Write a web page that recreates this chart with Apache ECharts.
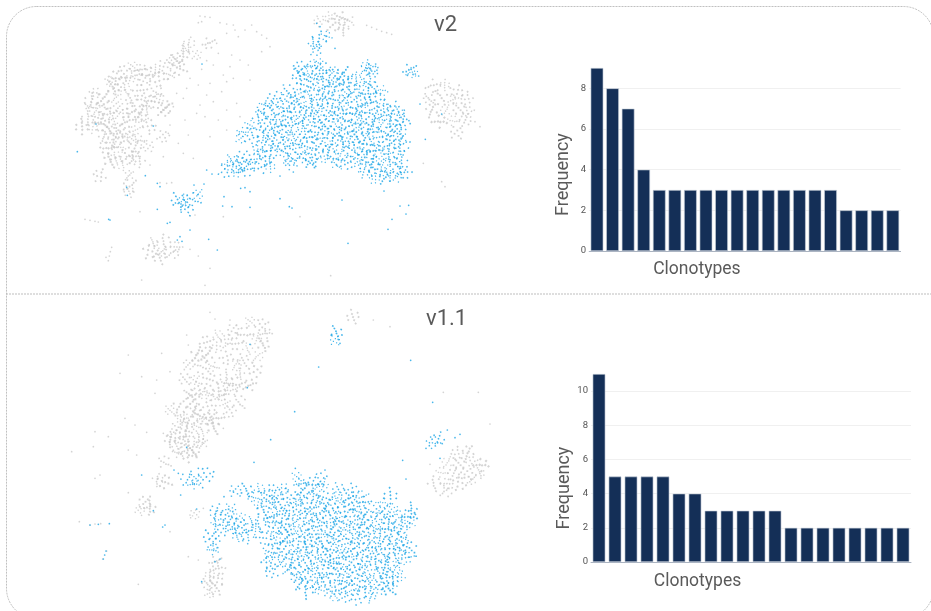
<!DOCTYPE html>
<html><head><meta charset="utf-8">
<style>html,body{margin:0;padding:0;background:#fff}#c{width:931px;height:611px}</style>
<script src="https://cdn.jsdelivr.net/npm/echarts@6/dist/echarts.min.js"></script>
</head><body><div id="c"></div>
<script>
const clonotypes = Array.from({length:20},(_,i)=>'C'+(i+1));
const freqV2 = [9,8,7,4,3,3,3,3,3,3,3,3,3,3,3,3,2,2,2,2];
const freqV11 = [11,5,5,5,5,4,4,3,3,3,3,3,2,2,2,2,2,2,2,2];

const blueClumpsV2 = [[745,160],[692,172],[726,168],[762,176],[888,166],[908,176],[684,188],[716,184],[748,190],[786,186],[818,192],[884,184],[906,182],
[690,206],[722,202],[756,208],[792,204],[826,210],[858,202],[896,212],[702,226],[734,222],[770,228],[802,224],[836,230],[872,222],[906,230],
[655,242],[692,248],[726,244],[760,250],[796,244],[830,250],[862,244],[896,252],[936,244],[612,266],[646,262],[680,268],[716,264],[750,270],[784,264],[820,270],[852,264],[886,270],[920,266],
[586,286],[622,282],[656,288],[690,284],[726,290],[760,284],[796,290],[830,284],[866,290],[900,284],[942,288],[970,294],[572,306],[600,302],[636,308],[670,304],[706,310],[740,304],[776,310],[810,304],[846,310],[880,304],[916,310],[950,304],[986,308],
[570,324],[610,328],[646,322],[680,328],[716,322],[750,328],[786,322],[820,328],[856,322],[890,328],[926,322],[960,328],[996,324],[540,346],[590,342],[626,348],[660,342],[696,348],[730,342],[766,348],[800,342],[836,348],[870,342],[906,348],[940,342],[976,348],[1000,342],
[516,366],[556,362],[596,368],[630,362],[666,368],[700,362],[736,368],[770,362],[806,368],[840,362],[876,368],[910,362],[946,368],[980,362],[512,384],[546,388],[580,382],[616,388],[650,382],[686,388],[720,382],[756,388],[790,382],[826,388],[860,382],[896,388],[930,382],[966,388],[996,384],
[576,406],[610,402],[646,408],[680,402],[716,408],[750,402],[786,408],[820,402],[856,408],[890,402],[926,408],[960,402],[1000,406],[566,424],[600,428],[636,422],[670,428],[706,422],[740,428],[776,422],[810,428],[846,422],[880,428],[916,422],[950,428],[986,424],
[522,440],[484,450],[510,458],[560,446],[592,442],[652,448],[690,444],[726,450],[762,444],[800,448],[852,446],[886,442],[922,448],[956,442],[990,448],[472,466],[506,470],[540,462],[575,466],[600,470],[662,460],[720,458],[802,462],[832,458],[872,466],[906,462],[940,468],[976,462],
[466,484],[500,488],[530,482],[882,486],[916,482],[950,488],[986,484],[1004,488],[912,506],[946,502],[975,500],
[322,570],[344,566],[338,584],[372,566],[384,552],[352,596],[730,100],[752,88],[770,78],[738,120],[1018,180],[1026,190]];
const blueSinglesV2 = [[22,425],[78,342],[250,348],[226,497],[262,598],[170,532],[172,556],[262,520],[270,530],[372,525],[402,522],[292,640],[300,637],[116,628],[120,630],[330,680],[322,690],[336,694],[360,660],[416,688],[442,720],[462,560],[458,588],[486,590],[512,535],[525,533],[540,545],[540,592],[630,566],[658,590],[666,594],[630,498],[670,486],[816,570],[834,700],[942,543],[990,588],[1016,586],[1008,612],[966,628],[954,658],[1066,388],[1050,282],[1115,312],[1036,192],[1046,198],[410,480],[426,492],[396,162],[740,40],[750,50],[795,115]];
const grayClumpsV2 = [[188,170],[160,185],[215,178],[140,200],[180,205],[225,210],[130,235],[170,240],[210,240],[75,250],[100,265],[140,265],[185,270],[225,270],[60,290],[100,295],[145,295],[190,300],[230,295],[50,325],[85,325],[130,330],[170,335],[215,330],[35,350],[70,355],[110,350],[150,360],[195,360],[240,350],[100,385],[140,385],[185,385],[280,380],[110,415],[150,415],[195,415],[235,410],[120,450],[155,465],[190,440],[88,497],[178,495],[178,525],[176,545],[270,205],[300,195],[262,245],[280,300],[310,150],[340,130],[360,100],[330,175],[380,135],[415,100],[1090,230],[1125,225],[1160,245],[1075,265],[1110,265],[1150,270],[1190,265],[1085,300],[1125,300],[1165,295],[1195,305],[1110,335],[1150,330],[1185,330],[1160,368],[250,700],[285,695],[320,710],[240,725],[275,725],[310,730],[270,742],[775,22],[810,22],[835,35],[790,45],[745,35],[820,55],
[60,272],[120,215],[150,225],[200,195],[240,190],[255,180],[285,165],[320,152],[350,115],[120,310],[165,312],[210,312],[80,305],[125,368],[168,378],[212,392],[90,345],[135,402],[170,440],[135,442],[205,452],[245,275],[265,265],[290,290]];
const graySinglesV2 = [[390,18],[405,20],[420,22],[385,38],[395,35],[450,38],[470,42],[490,45],[495,60],[470,70],[505,80],[525,60],[545,45],[560,65],[575,75],[590,85],[485,135],[510,150],[535,165],[575,125],[600,110],[440,100],[430,165],[460,195],[490,205],[420,220],[385,225],[350,235],[340,265],[310,290],[390,285],[430,275],[470,300],[380,310],[345,330],[300,345],[295,370],[420,380],[470,360],[510,320],[340,430],[370,445],[280,440],[240,465],[45,628],[60,631],[75,634],[85,636],[125,712],[121,725],[118,738],[115,752],[108,742],[890,46],[905,52],[920,58],[935,64],[950,68],[965,73],[1230,350],[1215,335],[1060,460],[1115,515],[1125,530],[215,810],[405,826],[782,797],[420,775],[385,738],[360,718],[210,605],[460,620],[690,620],[270,518],[290,520],[305,518],[360,618],[375,615],[395,178],[410,152],[445,130],[470,215],[360,205],[320,250],[455,245],[405,320],[355,375],[325,400],[500,280],[445,330],[540,210],[410,255],[480,170]];

const blueClumpsV11 = [[680,516],[750,522],[692,536],[730,534],[760,538],[496,558],[530,556],[570,552],[606,556],[640,552],[700,554],[736,556],[806,552],[846,556],
[546,576],[586,572],[620,578],[656,572],[690,578],[726,572],[760,578],[800,574],[840,578],[876,572],[960,572],[566,596],[600,592],[636,598],[670,592],[706,598],[740,592],[776,598],[810,592],[846,598],[880,592],[936,596],
[440,618],[482,612],[580,616],[616,612],[650,618],[686,612],[720,618],[756,612],[790,618],[826,612],[860,618],[900,612],[936,618],[970,612],[1024,616],[440,636],[476,632],[512,638],[600,636],[636,632],[670,638],[706,632],[740,638],[776,632],[810,638],[846,632],[880,638],[916,632],[950,638],[986,632],[1020,636],
[440,656],[476,652],[510,658],[546,652],[570,658],[606,652],[640,658],[676,652],[710,658],[746,652],[780,658],[816,652],[850,658],[886,652],[920,658],[956,652],[990,658],[1020,654],[450,676],[486,672],[520,678],[556,672],[610,676],[646,672],[680,678],[716,672],[750,678],[786,672],[820,678],[856,672],[890,678],[926,672],[960,678],[996,672],
[420,696],[500,692],[530,696],[580,700],[616,692],[650,698],[686,692],[720,698],[756,692],[790,698],[826,692],[860,698],[896,692],[930,698],[966,692],[1000,698],[432,716],[616,716],[650,712],[686,718],[720,712],[756,718],[790,712],[826,718],[860,712],[896,718],[930,712],[966,718],[1000,714],
[430,736],[600,736],[640,732],[676,738],[710,732],[746,738],[780,732],[816,738],[850,732],[886,738],[920,732],[956,738],[990,732],[1020,738],[596,756],[630,752],[666,758],[700,752],[736,758],[770,752],[806,758],[840,752],[876,758],[910,752],[946,758],[980,752],[1014,756],
[596,776],[636,772],[670,778],[706,772],[740,778],[776,772],[810,778],[846,772],[880,778],[916,772],[950,778],[986,774],[606,800],[656,794],[690,798],[726,792],[760,798],[796,792],[830,798],[866,792],[900,798],[942,794],[976,798],[680,816],[716,812],[750,818],[786,812],[820,818],[856,812],[890,818],[926,812],[960,818],[990,814],
[692,834],[726,838],[760,832],[796,838],[830,832],[866,838],[900,832],[936,838],[970,834],[712,856],[746,852],[780,858],[816,852],[850,858],[886,852],[920,858],[956,852],[792,874],[826,876],[862,880],[902,876],
[350,520],[378,522],[408,508],[372,538],[1090,410],[1104,402],[795,106],[800,84]];
const blueSinglesV11 = [[312,495],[325,505],[398,548],[385,490],[428,515],[215,510],[250,617],[285,660],[278,666],[332,570],[380,612],[60,660],[85,658],[118,656],[100,762],[104,750],[108,738],[350,427],[540,118],[532,248],[746,186],[674,320],[602,404],[552,472],[676,490],[765,495],[1022,166],[1088,292],[1132,375],[1170,388],[1155,398],[998,466],[1008,522],[1110,460],[1068,430],[1078,422],[785,88],[810,115],[395,830],[462,575],[490,558],[450,762],[435,770]];
const grayClumpsV11 = [[540,50],[575,60],[590,85],[525,85],[560,100],[490,75],[580,120],[535,130],[495,115],[445,125],[410,150],[565,155],[520,165],[470,160],[430,185],[395,190],[355,180],[555,195],[510,205],[465,215],[420,225],[375,225],[540,240],[490,250],[445,260],[400,265],[360,270],[510,290],[465,295],[420,305],[375,315],[330,310],[300,315],[480,320],[440,340],[400,345],[355,355],[320,370],[430,365],[395,385],[350,395],[310,395],[400,415],[360,425],[320,425],[355,450],[325,445],[285,470],[225,590],[210,615],[240,610],[265,525],[285,530],[375,628],
[435,770],[445,795],[420,810],[440,825],[410,835],[435,850],[420,865],[1160,445],[1195,440],[1130,470],[1165,475],[1205,470],[1235,480],[1115,500],[1150,505],[1190,505],[1230,505],[1095,535],[1130,535],[1170,535],[1205,525],[1130,560],[850,35],
[340,335],[385,330],[420,272],[370,290],[335,345],[300,405],[345,375],[380,365],[415,340],[460,270],[500,235],[385,405],[340,410],[370,440],[445,90],[410,110],[470,105],[380,150],[500,180],[345,222],[385,250],[470,235]];
const graySinglesV11 = [[420,22],[435,42],[480,45],[500,60],[350,90],[355,120],[910,45],[960,65],[175,150],[150,205],[215,215],[260,225],[275,145],[300,200],[255,265],[165,340],[195,360],[230,382],[280,385],[75,380],[115,395],[70,425],[5,440],[175,435],[200,450],[75,520],[90,510],[175,563],[28,650],[60,660],[75,657],[92,656],[98,762],[110,738],[205,838],[355,755],[385,765],[1260,357],[1225,262],[1120,262],[1080,478],[460,370],[400,610],[360,630],[300,680]];

const dotLayouts = [
 [[0,1],[3,3],[8,0],[5.5,5],[8,7],[1,8],[11,10],[4,11],[11,3]],
 [[2,0],[9,1],[0,5],[6,3.5],[11,5],[3.5,7],[7.5,9],[10,11.5],[1,11]],
 [[0,9],[3,8],[5,6],[7,5],[9,3],[11,1],[2,2],[10,9],[5,11]],
 [[0,0],[2.5,2],[5,3],[11,1],[7,5.5],[9.5,7.5],[1,9],[5,12],[11,11]]
];
const glyphs = s => dotLayouts.map(d=>'path://'+d.map(([x,y])=>`M${x} ${y}h${s}v${s}h-${s}z`).join(''));
const blueGlyphs = glyphs(1.5), grayGlyphs = glyphs(1.8);
const clumpSizes = [10,13,11,14,10,12,13];
const BLUE='#1aa5e6', GRAY='#c9c9c9', TXT='#5a5a5a', FONT='Roboto';

function clumpSeries(data,color,xi,set){return {type:'scatter',xAxisIndex:xi,yAxisIndex:xi,data,silent:true,
  symbol:(v,p)=>set[p.dataIndex%4],symbolSize:(v,p)=>clumpSizes[p.dataIndex%7],
  symbolRotate:(v,p)=>(p.dataIndex*73)%360,itemStyle:{color}};}
function dotSeries(data,color,xi){return {type:'scatter',xAxisIndex:xi,yAxisIndex:xi,data,silent:true,symbol:'circle',symbolSize:1.7,itemStyle:{color}};}
function barSeries(data,xi,gap){return {type:'bar',xAxisIndex:xi,yAxisIndex:xi,data,barCategoryGap:gap,silent:true,
  itemStyle:{color:'#142f57',borderColor:'#c9d1dc',borderWidth:0.6}};}
function hiddenX(max,g){return {type:'value',gridIndex:g,min:0,max,show:false};}
function hiddenY(max,g){return {type:'value',gridIndex:g,min:0,max,inverse:true,show:false};}
function barX(g,pad,gap){return {type:'category',gridIndex:g,data:clonotypes,
  axisTick:{show:false},axisLabel:{show:false},axisLine:{lineStyle:{color:'#aab3c0',width:1}},
  name:'Clonotypes',nameLocation:'middle',nameGap:gap,nameTextStyle:{fontFamily:FONT,fontSize:17.5,color:TXT,padding:[0,pad,0,0]}};}
function barY(g,max,pad){return {type:'value',gridIndex:g,min:0,max,interval:2,
  axisLine:{show:false},axisTick:{show:false},
  axisLabel:{showMaxLabel:false,fontFamily:FONT,fontSize:9.5,color:'#555',margin:3},
  splitLine:{showMaxLine:false,lineStyle:{color:'#f0f0f0',width:1}},
  name:'Frequency',nameLocation:'middle',nameRotate:90,nameGap:17,nameTextStyle:{fontFamily:FONT,fontSize:18,color:TXT,padding:[0,pad,0,0]}};}

const chart=echarts.init(document.getElementById('c'),null,{renderer:'canvas'});
chart.setOption({
 animation:false,backgroundColor:'#fff',
 grid:[{left:70,top:10,width:420,height:280},{left:589.2,top:68,width:311.4,height:183},
       {left:70,top:305,width:430,height:300},{left:591,top:374,width:320,height:188}],
 xAxis:[hiddenX(1260,0),barX(1,96,10),hiddenX(1290,2),barX(3,107,11)],
 yAxis:[hiddenY(840,0),barY(1,9,30),hiddenY(900,2),barY(3,11,40)],
 series:[
  clumpSeries(grayClumpsV2,GRAY,0,grayGlyphs),dotSeries(graySinglesV2,GRAY,0),clumpSeries(blueClumpsV2,BLUE,0,blueGlyphs),dotSeries(blueSinglesV2,BLUE,0),
  barSeries(freqV2,1,'18.6%'),
  clumpSeries(grayClumpsV11,GRAY,2,grayGlyphs),dotSeries(graySinglesV11,GRAY,2),clumpSeries(blueClumpsV11,BLUE,2,blueGlyphs),dotSeries(blueSinglesV11,BLUE,2),
  barSeries(freqV11,3,'20.8%')
 ],
 graphic:[
  {type:'rect',silent:true,shape:{x:6.5,y:6.5,width:927,height:612,r:30},style:{fill:'none',stroke:'#a5a5a5',lineWidth:.7,lineDash:[2,1]}},
  {type:'line',silent:true,shape:{x1:6,y1:294,x2:931,y2:294},style:{stroke:'#bdbdbd',lineWidth:1,lineDash:[2,1]}},
  {type:'text',silent:true,left:434,top:14,style:{text:'v2',fontFamily:FONT,fontSize:22,fill:TXT}},
  {type:'text',silent:true,left:426,top:308,style:{text:'v1.1',fontFamily:FONT,fontSize:22,fill:TXT}}
 ]
});
</script></body></html>
